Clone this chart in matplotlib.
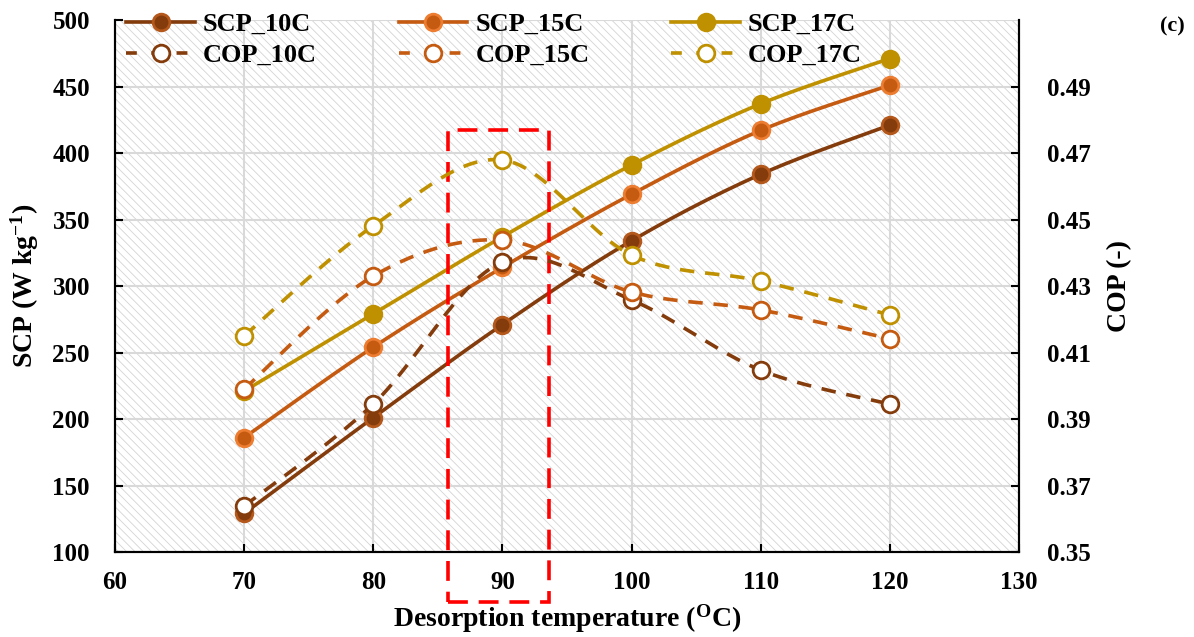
import numpy as np
import matplotlib
matplotlib.use("Agg")
import matplotlib.pyplot as plt
from matplotlib.lines import Line2D
from matplotlib.patches import Rectangle

plt.rcParams['font.family'] = 'Liberation Serif'
plt.rcParams['font.weight'] = 'bold'
plt.rcParams['axes.labelweight'] = 'bold'
plt.rcParams['mathtext.fontset'] = 'custom'
plt.rcParams['mathtext.rm'] = 'Liberation Serif:bold'
plt.rcParams['mathtext.bf'] = 'Liberation Serif:bold'
plt.rcParams['mathtext.default'] = 'bf'
plt.rcParams['hatch.linewidth'] = 0.6

# desorption temperature (oC)
temp = [70, 80, 90, 100, 110, 120]

# specific cooling power (W/kg)
scp_10 = [129, 201, 271, 334, 384, 421]
scp_15 = [186, 254, 314, 369, 417, 451]
scp_17 = [221, 279, 337, 391, 437, 471]

# coefficient of performance
cop_10 = [0.3638, 0.3945, 0.4372, 0.4258, 0.4047, 0.3945]
cop_15 = [0.3990, 0.4330, 0.4438, 0.4282, 0.4228, 0.4141]
cop_17 = [0.4150, 0.4481, 0.4679, 0.4393, 0.4315, 0.4213]

labels_scp = ['SCP_10C', 'SCP_15C', 'SCP_17C']
labels_cop = ['COP_10C', 'COP_15C', 'COP_17C']
colors = ['#843C0C', '#C55A11', '#BF9000']
edges = ['#B4581C', '#ED7D31', '#BF9000']


def smooth(x, y, n=30):
    # bezier smoothing like spreadsheet "smoothed line"
    x = np.asarray(x, float)
    y = np.asarray(y, float)
    px, py = [], []
    for i in range(len(x) - 1):
        x0, y0 = x[max(i - 1, 0)], y[max(i - 1, 0)]
        x3, y3 = x[min(i + 2, len(x) - 1)], y[min(i + 2, len(y) - 1)]
        c1x = x[i] + (x[i + 1] - x0) / 6
        c1y = y[i] + (y[i + 1] - y0) / 6
        c2x = x[i + 1] - (x3 - x[i]) / 6
        c2y = y[i + 1] - (y3 - y[i]) / 6
        t = np.linspace(0, 1, n)
        bx = (1-t)**3*x[i] + 3*(1-t)**2*t*c1x + 3*(1-t)*t**2*c2x + t**3*x[i+1]
        by = (1-t)**3*y[i] + 3*(1-t)**2*t*c1y + 3*(1-t)*t**2*c2y + t**3*y[i+1]
        px.extend(bx)
        py.extend(by)
    return px, py


fig = plt.figure(figsize=(11.94, 6.37), dpi=100)
ax = fig.add_axes([0.0963, 0.1334, 0.7571, 0.8352])
ax2 = ax.twinx()

# hatched plot background
ax.add_patch(Rectangle((0, 0), 1, 1, transform=ax.transAxes, facecolor='white',
                       edgecolor='#d4d4d4', hatch='\\\\\\\\', linewidth=0, zorder=0))
ax.grid(True, color='#d9d9d9', linewidth=1.5, zorder=1)
ax.set_axisbelow(True)

for ys, c, e in zip([scp_10, scp_15, scp_17], colors, edges):
    sx, sy = smooth(temp, ys)
    ax.plot(sx, sy, color=c, linewidth=2.6, zorder=3)
    ax.plot(temp, ys, linestyle='none', marker='o', markersize=12,
            markerfacecolor=c, markeredgecolor=e, markeredgewidth=2, zorder=4)

for ys, c in zip([cop_10, cop_15, cop_17], colors):
    sx, sy = smooth(temp, ys)
    ax2.plot(sx, sy, color=c, linewidth=2.6, dashes=(4, 3), zorder=3)
    ax2.plot(temp, ys, linestyle='none', marker='o', markersize=12,
             markerfacecolor='white', markeredgecolor=c, markeredgewidth=2, zorder=4)

# highlighted region around 90 oC
box = Rectangle((85.8, 62.5), 7.8, 354.5, fill=False, edgecolor='#FF0000',
                linewidth=2.6, linestyle=(0, (5.5, 3)), clip_on=False, zorder=5)
ax.add_patch(box)

ax.set_xlim(60, 130)
ax.set_ylim(100, 500)
ax2.set_ylim(0.35, 0.51)
ax.set_xticks(np.arange(60, 131, 10))
ax.set_yticks(np.arange(100, 501, 50))
ax2.set_yticks(np.arange(0.35, 0.50, 0.02))
ax2.set_yticklabels([f'{v:.2f}' for v in np.arange(0.35, 0.50, 0.02)])

for a in (ax, ax2):
    a.tick_params(direction='in', length=6, width=1.5, labelsize=18, colors='black')
    for s in a.spines.values():
        s.set_linewidth(1.5)
    a.spines['top'].set_visible(False)
ax.tick_params(axis='x', pad=14)
ax.tick_params(axis='y', pad=18)
ax2.tick_params(axis='y', pad=20)

ax.set_xlabel('Desorption temperature ($^{O}$C)', fontsize=20, labelpad=6)
ax.set_ylabel('SCP (W kg$^{\u2212 1}$)', fontsize=20, labelpad=8)
ax2.set_ylabel('COP (-)', fontsize=20, labelpad=12)

handles = []
names = []
for c, e, ls, lc in zip(colors, edges, labels_scp, labels_cop):
    handles.append(Line2D([], [], color=c, linewidth=2.6, marker='o', markersize=12,
                          markerfacecolor=c, markeredgecolor=e, markeredgewidth=2))
    names.append(ls)
    handles.append(Line2D([], [], color=c, linewidth=2.6, dashes=(3, 4), marker='o',
                          markersize=12, markerfacecolor='white', markeredgecolor=c,
                          markeredgewidth=2))
    names.append(lc)

fig.legend(handles, names, ncol=3, loc='upper left', bbox_to_anchor=(0.086, 1.018),
           frameon=False, fontsize=19, handlelength=2.6, columnspacing=3.1,
           labelspacing=0.3, handletextpad=0.3)

fig.text(0.992, 0.958, '(c)', fontsize=16, ha='right', va='center')

fig.savefig('out.png', dpi=100)
